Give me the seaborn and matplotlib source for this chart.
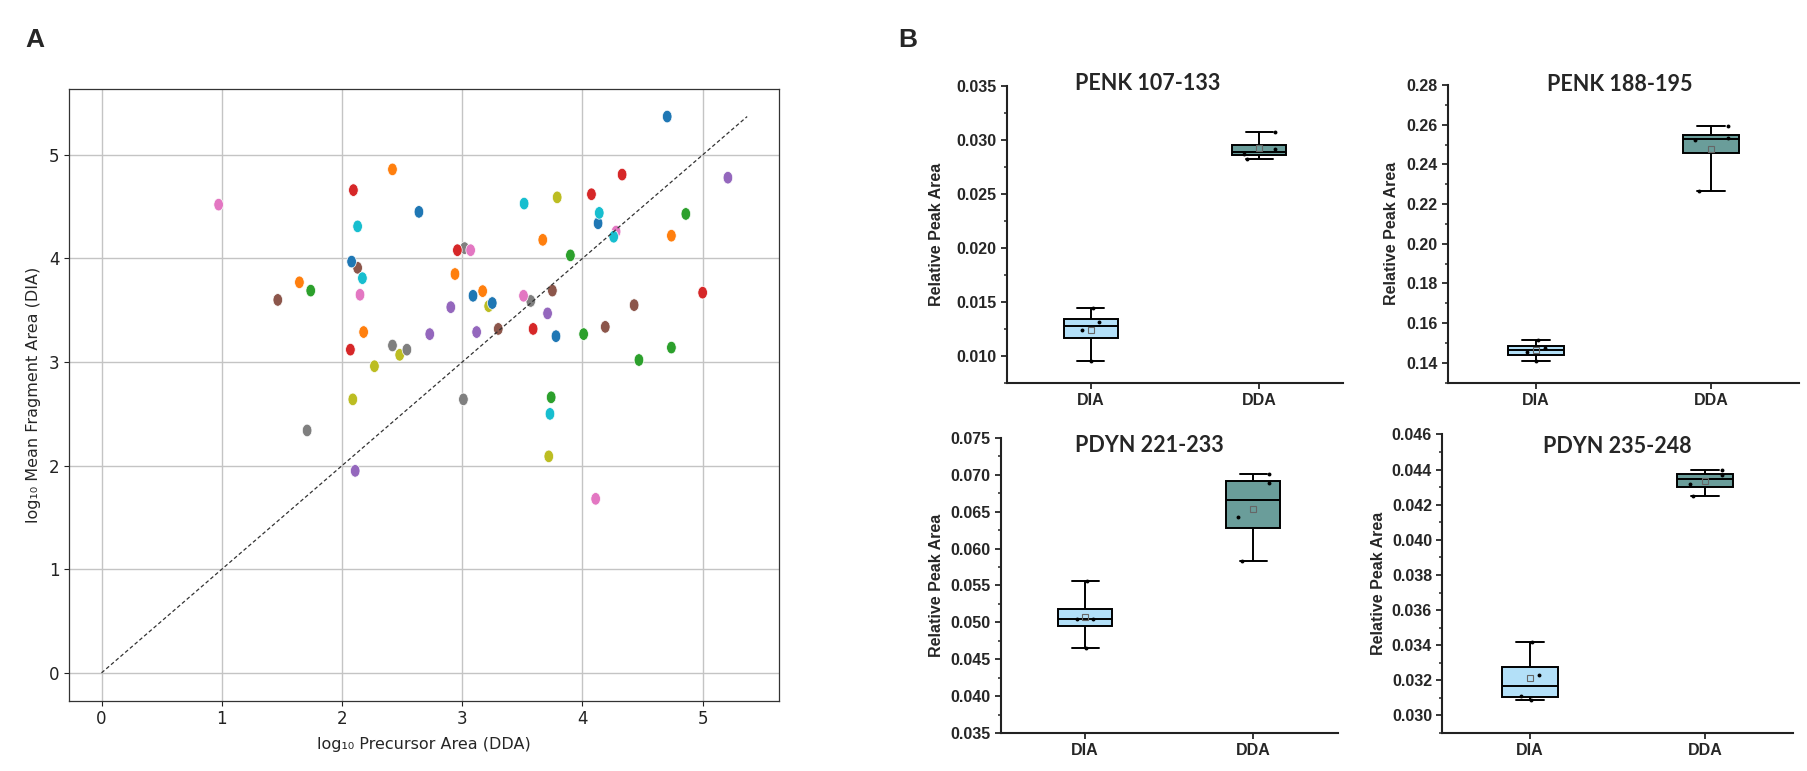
import numpy as np
import pandas as pd
import matplotlib
matplotlib.use("Agg")
import matplotlib.pyplot as plt
import matplotlib.path as mpath
from matplotlib.transforms import Affine2D
from matplotlib.ticker import MultipleLocator
import seaborn as sns

# ---------------- Panel A data (log10 areas), grouped by colour-cycle slot ----------------
blue_dda = [4.705, 2.64, 4.13, 2.08, 3.09, 3.25, 3.78]
blue_dia = [5.37, 4.45, 4.34, 3.97, 3.64, 3.57, 3.25]
orange_dda = [2.42, 4.74, 3.67, 1.646, 2.94, 3.17, 2.18]
orange_dia = [4.86, 4.22, 4.18, 3.77, 3.85, 3.685, 3.29]
green_dda = [3.90, 1.74, 4.01, 4.74, 4.47, 3.74, 4.86]
green_dia = [4.03, 3.69, 3.27, 3.14, 3.02, 2.66, 4.43]
red_dda = [2.095, 2.96, 4.33, 4.075, 3.59, 2.07, 5.00]
red_dia = [4.66, 4.08, 4.81, 4.62, 3.32, 3.12, 3.67]
purple_dda = [2.905, 3.71, 2.73, 3.12, 2.11, 5.21]
purple_dia = [3.53, 3.47, 3.27, 3.29, 1.95, 4.78]
brown_dda = [2.13, 1.466, 3.75, 4.43, 3.30, 4.19]
brown_dia = [3.91, 3.60, 3.69, 3.55, 3.32, 3.34]
pink_dda = [0.974, 3.07, 4.28, 2.15, 3.51, 4.11]
pink_dia = [4.52, 4.08, 4.26, 3.65, 3.64, 1.68]
gray_dda = [3.02, 3.57, 2.42, 2.54, 3.01, 1.71]
gray_dia = [4.10, 3.59, 3.16, 3.12, 2.64, 2.34]
olive_dda = [3.22, 3.79, 2.48, 2.27, 2.09, 3.72]
olive_dia = [3.54, 4.59, 3.07, 2.96, 2.64, 2.09]
cyan_dda = [2.13, 3.515, 4.14, 4.26, 2.17, 3.73]
cyan_dia = [4.31, 4.53, 4.44, 4.21, 3.81, 2.50]

groups_dda = [blue_dda, orange_dda, green_dda, red_dda, purple_dda,
              brown_dda, pink_dda, gray_dda, olive_dda, cyan_dda]
groups_dia = [blue_dia, orange_dia, green_dia, red_dia, purple_dia,
              brown_dia, pink_dia, gray_dia, olive_dia, cyan_dia]
tab10 = sns.color_palette("tab10", 10)

# ---------------- Panel B data (relative peak areas) ----------------
penk107_dia = [0.0144, 0.0131, 0.0124, 0.0095]
penk107_dda = [0.0308, 0.0292, 0.0287, 0.0283]
penk188_dia = [0.1515, 0.1477, 0.1452, 0.1410]
penk188_dda = [0.2594, 0.2533, 0.2521, 0.2268]
pdyn221_dia = [0.0556, 0.0505, 0.0505, 0.0465]
pdyn221_dda = [0.0701, 0.0689, 0.0643, 0.0583]
pdyn235_dia = [0.0342, 0.0323, 0.0311, 0.0309]
pdyn235_dda = [0.0440, 0.0437, 0.0432, 0.0425]
methods = ["DIA", "DDA"]
titles = ["PENK 107-133", "PENK 188-195", "PDYN 221-233", "PDYN 235-248"]

# ---------------- build long table for panel A (interleaved colour cycle) ----------------
rows = []
n_rounds = max(len(g) for g in groups_dda)
for r in range(n_rounds):
    for c in range(10):
        if r < len(groups_dda[c]):
            rows.append({"dda": groups_dda[c][r], "dia": groups_dia[c][r], "grp": c})
dfA = pd.DataFrame(rows)

sns.set_style("ticks")
plt.rcParams["font.family"] = ["DejaVu Sans"]

fig = plt.figure(figsize=(18.08, 7.71), dpi=100)

# ---------------- Panel A ----------------
axA = fig.add_axes([0.0383, 0.0912, 0.3928, 0.7937])
circ = mpath.Path.unit_circle()
ell = Affine2D().scale(0.76, 1.0).transform_path(circ)
sns.scatterplot(data=dfA, x="dda", y="dia", hue="grp", palette=tab10,
                marker=ell, s=82, edgecolor="white", linewidth=0.5,
                legend=False, ax=axA, zorder=3)
m = max(dfA["dda"].max(), dfA["dia"].max())
axA.plot([0, m], [0, m], ls=(0, (3, 2)), color="#333333", lw=0.9, zorder=4)
axA.set_xticks(range(0, 6))
axA.set_yticks(range(0, 6))
axA.grid(True, color="#c4c4c4", lw=1.0, zorder=0)
axA.set_axisbelow(True)
for s in axA.spines.values():
    s.set_color("#333333")
    s.set_linewidth(0.9)
axA.tick_params(labelsize=12, length=3.5, width=0.8, colors="#222222")
axA.set_xlabel("log\u2081\u2080 Precursor Area (DDA)", fontsize=11.5, labelpad=6)
axA.set_ylabel("log\u2081\u2080 Mean Fragment Area (DIA)", fontsize=11.5, labelpad=6)

# ---------------- Panel B ----------------
c_dia = "#B3E0F8"
c_dda = "#6A9D9A"
bold_font = ["Liberation Sans", "DejaVu Sans"]


def draw_box(ax, dia, dda, title, ylim, major, minor, fmt, tpos, lab_x):
    df = pd.DataFrame({"Method": [methods[0]] * len(dia) + [methods[1]] * len(dda),
                       "Area": list(dia) + list(dda)})
    sns.boxplot(data=df, x="Method", y="Area", hue="Method", order=methods,
                hue_order=methods, palette=[c_dia, c_dda], width=0.32,
                whis=(0, 100), showfliers=False, saturation=1, linecolor="black",
                linewidth=1.4, showmeans=True,
                meanprops=dict(marker="s", markerfacecolor="none",
                               markeredgecolor="#666666", markersize=4,
                               markeredgewidth=0.8),
                legend=False, ax=ax)
    np.random.seed(3)
    sns.stripplot(data=df, x="Method", y="Area", order=methods, color="black",
                  size=2.8, jitter=0.12, ax=ax, zorder=5)
    ax.set_xlim(-0.5, 1.5)
    ax.set_ylim(*ylim)
    start = np.ceil(ylim[0] / major - 1e-9) * major
    yt = np.arange(start, ylim[1] + major * 0.01, major)
    ax.set_yticks(yt, labels=[fmt % v for v in yt], fontweight="bold",
                  family=bold_font, fontsize=11.5)
    ax.yaxis.set_minor_locator(MultipleLocator(minor))
    ax.set_xticks([0, 1], labels=methods, fontweight="bold",
                  family=bold_font, fontsize=11.5)
    ax.spines[["top", "right"]].set_visible(False)
    for s in ("left", "bottom"):
        ax.spines[s].set_linewidth(1.5)
        ax.spines[s].set_color("#222222")
    ax.tick_params(axis="both", which="major", length=4.5, width=1.3,
                   direction="out", pad=3)
    ax.tick_params(axis="y", which="minor", length=2.5, width=1.1, direction="out")
    ax.set_xlabel("")
    ax.set_ylabel("Relative Peak Area", fontsize=11.5, fontweight="bold",
                  family=bold_font)
    ax.yaxis.set_label_coords(lab_x, 0.5)
    ax.text(tpos[0], tpos[1], title, transform=ax.transAxes, ha="center",
            va="center", fontsize=15.5, fontweight="bold",
            family=["Lato", "DejaVu Sans"])


ax1 = fig.add_axes([0.5568, 0.5037, 0.1862, 0.3842])
ax2 = fig.add_axes([0.8010, 0.5037, 0.1939, 0.3861])
ax3 = fig.add_axes([0.5536, 0.0493, 0.1862, 0.3827])
ax4 = fig.add_axes([0.7978, 0.0493, 0.1939, 0.3872])

draw_box(ax1, penk107_dia, penk107_dda, titles[0], (0.0075, 0.035), 0.005, 0.0025,
         "%.3f", (0.42, 1.01), -0.185)
draw_box(ax2, penk188_dia, penk188_dda, titles[1], (0.13, 0.28), 0.02, 0.01,
         "%.2f", (0.49, 1.0), -0.14)
draw_box(ax3, pdyn221_dia, pdyn221_dda, titles[2], (0.035, 0.075), 0.005, 0.0025,
         "%.3f", (0.44, 0.973), -0.17)
draw_box(ax4, pdyn235_dia, pdyn235_dda, titles[3], (0.029, 0.046), 0.002, 0.001,
         "%.3f", (0.50, 0.96), -0.162)

# panel letters
fig.text(0.0191, 0.948, "A", fontsize=19, fontweight="bold", family=bold_font,
         ha="center", va="center")
fig.text(0.502, 0.948, "B", fontsize=19, fontweight="bold", family=bold_font,
         ha="center", va="center")

fig.savefig("out.png", dpi=100)
